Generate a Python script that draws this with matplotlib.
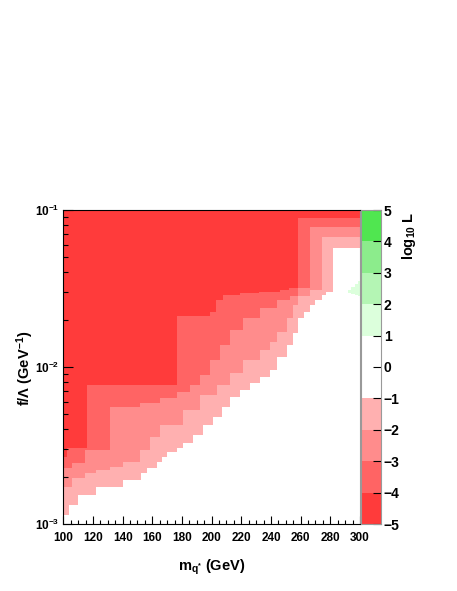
import matplotlib
matplotlib.use("Agg")
import matplotlib.pyplot as plt
import numpy as np

plt.rcParams['font.family'] = ['Liberation Sans', 'DejaVu Sans']
plt.rcParams['font.weight'] = 'bold'
plt.rcParams['mathtext.fontset'] = 'custom'
plt.rcParams['mathtext.rm'] = 'Liberation Sans:bold'
plt.rcParams['mathtext.bf'] = 'Liberation Sans:bold'
plt.rcParams['mathtext.it'] = 'Liberation Sans:bold:italic'
plt.rcParams['mathtext.default'] = 'rm'

#%% contour edges: (m_q* [GeV], f/Lambda [1/GeV])
# value holds from each mass to the next (staircase)

# log10 L = -4
m4 = [100, 102.5, 116, 176.6, 198.8, 203, 207.5, 219, 232, 246, 252, 258.2]
f4 = [0.00267, 0.00305, 0.00768, 0.0211, 0.0224, 0.0267, 0.0287, 0.0296, 0.0300, 0.0309, 0.0319, 0.0889]

# log10 L = -3
m3 = [100, 105.9, 114.6, 131.4, 151.6, 165.1, 176.6, 185.3, 192.1, 198.8, 205.5, 212.2,
      221, 232.4, 243.8, 252.6, 258.2, 266.3]
f3 = [0.00227, 0.00245, 0.00296, 0.00556, 0.0059, 0.00635, 0.00693, 0.00768, 0.00889, 0.0111,
      0.0138, 0.0172, 0.0205, 0.0238, 0.0267, 0.0283, 0.0319, 0.0780]

# log10 L = -2
m2 = [100, 105.9, 114.6, 122, 131.4, 140.2, 151.6, 158.4, 165.1, 180.6, 192.1, 203.5, 212.2,
      221, 232.4, 239.1, 243.8, 250.5, 254.6, 258.2, 266.3, 274.4]
f2 = [0.00172, 0.00196, 0.00211, 0.00221, 0.00231, 0.00248, 0.00296, 0.00358, 0.00427, 0.00532,
      0.00664, 0.00768, 0.00916, 0.0111, 0.0128, 0.0144, 0.0167, 0.0205, 0.0248, 0.0283, 0.0309, 0.0673]

# log10 L = -1
m1 = [100, 103.8, 109.9, 122, 140.2, 152.3, 156.4, 163.1, 166.5, 169.8, 176.6, 180.6, 187.3,
      194.1, 200.8, 206.9, 212.2, 218.9, 225.7, 232.4, 239.1, 243.8, 250.5, 254.6, 258.2, 262,
      266.3, 270, 274.4, 277, 281.8]
f1 = [0.00114, 0.00132, 0.00153, 0.00172, 0.00191, 0.00211, 0.00227, 0.00248, 0.00267, 0.00287,
      0.00305, 0.00328, 0.00369, 0.00427, 0.00481, 0.00556, 0.00644, 0.00714, 0.00791, 0.00864,
      0.00957, 0.0116, 0.0138, 0.0165, 0.0205, 0.0224, 0.0248, 0.0267, 0.0287, 0.0300, 0.0573]

# small log10 L > 1 patch
mg = [291.8, 294, 296.5, 298.5]
fg_lo = [0.0296, 0.0292, 0.0287, 0.0283]
fg_hi = [0.0309, 0.0324, 0.0338, 0.0353]

levels = [-5, -4, -3, -2, -1, 0, 1, 2, 3, 4, 5]
colors = ['#ff3b3b', '#ff6464', '#ff8c8c', '#ffb0b0', 'white', 'white',
          '#dcffdc', '#b4f5b4', '#8cec8c', '#50e650']

x_ticks = np.arange(100, 301, 20)


def step_at(mn, fn, xs):
    idx = np.searchsorted(np.array(mn), xs, side='right') - 1
    return np.array(fn)[idx]


xs = np.unique(np.concatenate([m1, m2, m3, m4, [300]]))
b1 = step_at(m1, f1, xs)
b2 = step_at(m2, f2, xs)
b3 = step_at(m3, f3, xs)
b4 = step_at(m4, f4, xs)

fig = plt.figure(figsize=(4.57, 5.91), dpi=100)
ax = fig.add_axes([63.3/457, 67/591, 296.7/457, 314/591])

ax.fill_between(xs, b4, 0.1, step='post', color=colors[0], lw=0)
ax.fill_between(xs, b3, b4, step='post', color=colors[1], lw=0)
ax.fill_between(xs, b2, b3, step='post', color=colors[2], lw=0)
ax.fill_between(xs, b1, b2, step='post', color=colors[3], lw=0)
mgx = np.append(mg, 300)
ax.fill_between(mgx, np.append(fg_lo, fg_lo[-1]), np.append(fg_hi, fg_hi[-1]),
                step='post', color=colors[6], lw=0)

ax.set_yscale('log')
ax.set_xlim(100, 300)
ax.set_ylim(1e-3, 1e-1)
ax.set_xticks(x_ticks)
ax.set_xticklabels([str(v) for v in x_ticks])
ax.set_xticks(np.arange(100, 301, 5), minor=True)
ax.set_yticks([1e-3, 1e-2, 1e-1])
ax.set_yticklabels([r'$10^{-3}$', r'$10^{-2}$', r'$10^{-1}$'])
ax.tick_params(axis='both', which='both', direction='in', top=False, right=False,
               labelsize=8.5, width=0.8)
ax.tick_params(axis='x', which='major', length=6, pad=5.5)
ax.tick_params(axis='x', which='minor', length=3)
ax.tick_params(axis='y', which='major', length=7, pad=3)
ax.tick_params(axis='y', which='minor', length=3.5)
for s in ax.spines.values():
    s.set_linewidth(0.8)
ax.spines['right'].set_color('#999999')

fig.text(212/457, 1 - 567/591, r'm$_{\mathrm{q}^{*}}$ (GeV)', ha='center', va='center',
         fontsize=10.5, fontweight='bold')
fig.text(25/457, 1 - 368/591, r'f/$\Lambda$ (GeV$^{-1}$)', ha='center', va='center',
         rotation=90, fontsize=10.5, fontweight='bold')

# palette
cax = fig.add_axes([361/457, 67/591, 20/457, 314/591])
for i in range(10):
    cax.fill_between([0, 1], levels[i], levels[i+1], color=colors[i], lw=0)
cax.set_xlim(0, 1)
cax.set_ylim(-5, 5)
cax.set_xticks([])
cax.set_yticks(levels)
cax.yaxis.tick_right()
cax.tick_params(axis='y', direction='in', length=6, width=0.8, labelsize=10, pad=2)
for s in cax.spines.values():
    s.set_color('#999999')
    s.set_linewidth(0.8)
fig.text(409/457, 1 - 212/591, r'log$_{10}$ L', ha='center', va='top', rotation=90,
         fontsize=10.5, fontweight='bold')

fig.savefig('out.png', dpi=100)
